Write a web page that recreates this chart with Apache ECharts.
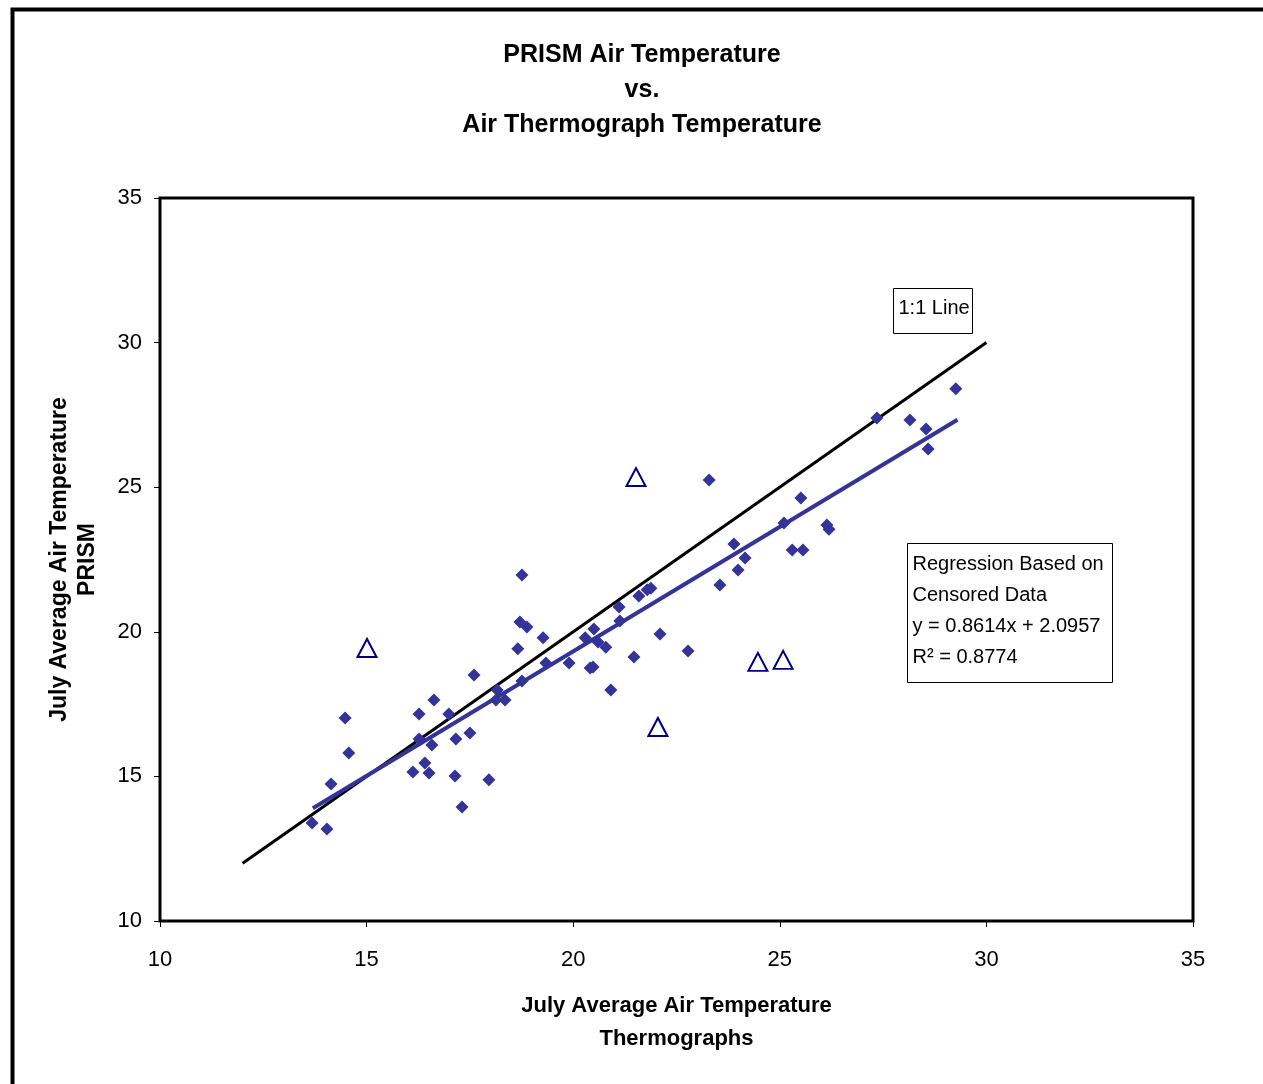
<!DOCTYPE html>
<html>
<head>
    <meta charset="utf-8">
    <title>PRISM vs Thermograph</title>
    <script src="https://cdn.jsdelivr.net/npm/echarts@6/dist/echarts.min.js"></script>
    <style>
        html, body { margin: 0; padding: 0; background: #fff; }
        #main { width: 1263px; height: 1084px; }
    </style>
</head>
<body>
<div id="main"></div>
<script>
    // thermograph (x) vs PRISM (y), censored data used in regression
    var thermoX = [13.68, 14.04, 14.14, 14.57, 14.48, 16.12, 16.27, 16.27, 16.41, 16.51,
        16.58, 16.63, 16.99, 17.16, 17.14, 17.31, 17.50, 17.60, 17.96, 18.16,
        18.13, 18.35, 18.66, 18.71, 18.88, 18.76, 18.76, 19.27, 19.34, 19.90,
        20.29, 20.41, 20.48, 20.50, 20.60, 20.79, 20.91, 21.11, 21.13, 21.47,
        21.59, 21.79, 21.88, 22.10, 22.78, 23.29, 23.55, 23.89, 23.99, 24.16,
        25.10, 25.30, 25.51, 25.56, 26.14, 26.19, 27.35, 28.15, 28.54, 28.59, 29.26];
    var prismY = [13.39, 13.18, 14.74, 15.81, 17.02, 15.15, 17.16, 16.29, 15.46, 15.12,
        16.09, 17.64, 17.16, 16.29, 15.01, 13.94, 16.50, 18.51, 14.88, 17.99,
        17.64, 17.64, 19.41, 20.34, 20.17, 21.96, 18.30, 19.79, 18.92, 18.92,
        19.79, 18.75, 18.78, 20.10, 19.65, 19.47, 17.99, 20.86, 20.37, 19.13,
        21.24, 21.45, 21.51, 19.92, 19.34, 25.25, 21.62, 23.04, 22.14, 22.55,
        23.76, 22.83, 24.63, 22.83, 23.69, 23.55, 27.39, 27.32, 27.01, 26.32, 28.40];

    // points left out of the regression
    var censoredX = [15.01, 21.52, 22.05, 24.47, 25.08];
    var censoredY = [19.44, 25.35, 16.71, 18.96, 19.03];

    var slope = 0.8614;
    var intercept = 2.0957;
    var fitRange = [13.7, 29.3];
    var oneToOneRange = [12, 30];

    var xTicks = [10, 15, 20, 25, 30, 35];
    var yTicks = [10, 15, 20, 25, 30, 35];

    function pairs(xs, ys) {
        var out = [];
        for (var i = 0; i < xs.length; i++) {
            out.push([xs[i], ys[i]]);
        }
        return out;
    }

    var fitLine = fitRange.map(function (x) { return [x, slope * x + intercept]; });
    var oneLine = oneToOneRange.map(function (x) { return [x, x]; });

    var font = '"Liberation Sans", Arial, sans-serif';

    var myChart = echarts.init(document.getElementById('main'));
    myChart.setOption({
        backgroundColor: '#fff',
        animation: false,
        title: {
            text: 'PRISM Air Temperature\nvs.\nAir Thermograph Temperature',
            left: 637,
            top: 33,
            textAlign: 'center',
            textStyle: {
                fontFamily: font,
                fontSize: 25,
                fontWeight: 'bold',
                color: '#000',
                lineHeight: 35
            }
        },
        grid: {
            left: 160,
            right: 70,
            top: 198,
            bottom: 163,
            show: true,
            borderColor: '#000',
            borderWidth: 3
        },
        xAxis: {
            type: 'value',
            min: xTicks[0],
            max: xTicks[xTicks.length - 1],
            interval: 5,
            name: 'July Average Air Temperature\nThermographs',
            nameLocation: 'middle',
            nameGap: 68,
            nameTextStyle: {
                fontFamily: font,
                fontSize: 22,
                fontWeight: 'bold',
                color: '#000',
                lineHeight: 33
            },
            axisLine: {show: true, lineStyle: {color: '#000', width: 2}},
            axisTick: {show: true, length: 6, lineStyle: {color: '#000', width: 1}},
            axisLabel: {fontFamily: font, fontSize: 22, color: '#000', margin: 28},
            splitLine: {show: false}
        },
        yAxis: {
            type: 'value',
            min: yTicks[0],
            max: yTicks[yTicks.length - 1],
            interval: 5,
            name: 'July Average Air Temperature\nPRISM',
            nameLocation: 'middle',
            nameGap: 58,
            nameTextStyle: {
                fontFamily: font,
                fontSize: 23,
                fontWeight: 'bold',
                color: '#000',
                lineHeight: 28
            },
            axisLine: {show: true, lineStyle: {color: '#000', width: 2}},
            axisTick: {show: true, length: 6, lineStyle: {color: '#000', width: 1}},
            axisLabel: {fontFamily: font, fontSize: 22, color: '#000', margin: 18},
            splitLine: {show: false}
        },
        series: [
            {
                name: '1:1 Line',
                type: 'line',
                data: oneLine,
                symbol: 'none',
                lineStyle: {color: '#000', width: 3},
                z: 2
            },
            {
                name: 'Regression',
                type: 'line',
                data: fitLine,
                symbol: 'none',
                lineStyle: {color: '#333399', width: 4},
                z: 3
            },
            {
                name: 'Data',
                type: 'scatter',
                data: pairs(thermoX, prismY),
                symbol: 'diamond',
                symbolSize: 13,
                itemStyle: {color: '#333399', opacity: 1},
                z: 4
            },
            {
                name: 'Censored',
                type: 'scatter',
                data: pairs(censoredX, censoredY),
                symbol: 'triangle',
                symbolSize: [19, 18],
                itemStyle: {color: '#fff', borderColor: '#000080', borderWidth: 2, opacity: 1},
                z: 4
            }
        ],
        graphic: [
            {
                type: 'rect',
                left: 10,
                top: 7,
                shape: {width: 1300, height: 1120},
                style: {fill: 'none', stroke: '#000', lineWidth: 4},
                silent: true
            },
            {
                type: 'group',
                left: 893,
                top: 288,
                children: [
                    {
                        type: 'rect',
                        shape: {x: 0, y: 0, width: 79, height: 45},
                        style: {fill: '#fff', stroke: '#000', lineWidth: 1}
                    },
                    {
                        type: 'text',
                        x: 5,
                        y: 10,
                        style: {text: '1:1 Line', font: '20px ' + font, fill: '#000'}
                    }
                ]
            },
            {
                type: 'group',
                left: 907,
                top: 543,
                children: [
                    {
                        type: 'rect',
                        shape: {x: 0, y: 0, width: 205, height: 139},
                        style: {fill: '#fff', stroke: '#000', lineWidth: 1}
                    },
                    {
                        type: 'text',
                        x: 5,
                        y: 5,
                        style: {
                            text: 'Regression Based on\nCensored Data\ny = 0.8614x + 2.0957\nR² = 0.8774',
                            font: '20px ' + font,
                            lineHeight: 31,
                            fill: '#000'
                        }
                    }
                ]
            }
        ]
    });
</script>
</body>
</html>
